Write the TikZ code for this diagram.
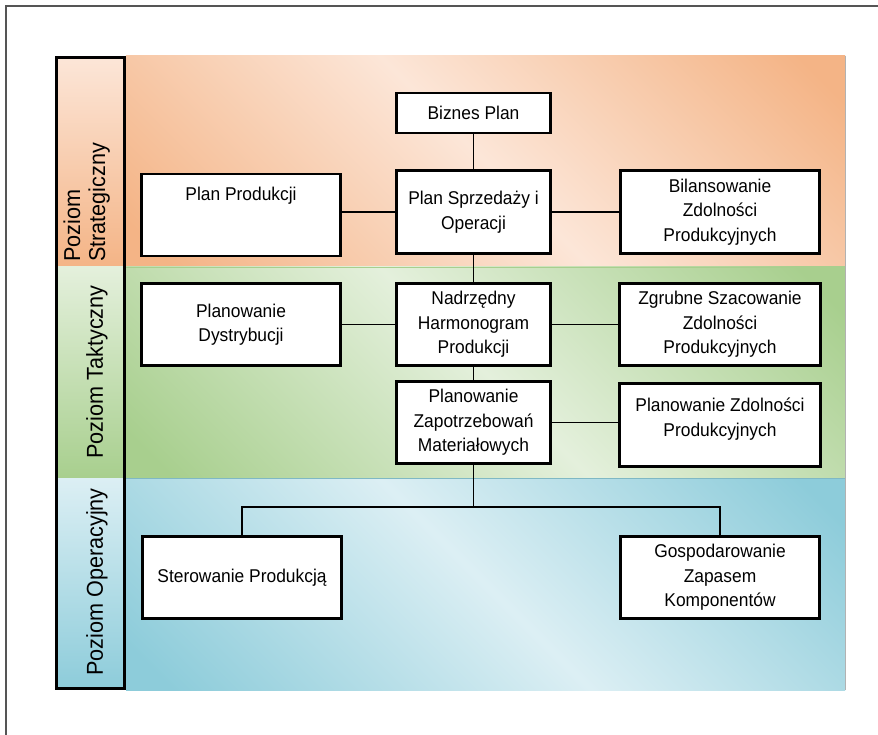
\documentclass[tikz,border=0pt]{standalone}
\usepackage{fontspec}
\setmainfont{Liberation Sans}
\newfontfamily\boxfont[FakeStretch=0.94]{Liberation Sans}
\usetikzlibrary{calc}
\definecolor{sDark}{HTML}{F4B486}
\definecolor{sLight}{HTML}{FCE6D8}
\definecolor{tDark}{HTML}{A8CF8E}
\definecolor{tLight}{HTML}{E4F0DC}
\definecolor{oDark}{HTML}{8DCCDA}
\definecolor{oLight}{HTML}{DCEFF4}
\definecolor{frameGray}{HTML}{555555}
\pgfdeclarehorizontalshading{stratsh}{100bp}{color(0bp)=(sDark); color(18bp)=(sDark); color(50bp)=(sLight); color(82bp)=(sDark); color(100bp)=(sDark)}
\pgfdeclarehorizontalshading{taktsh}{100bp}{color(0bp)=(tDark); color(18bp)=(tDark); color(50bp)=(tLight); color(82bp)=(tDark); color(100bp)=(tDark)}
\pgfdeclarehorizontalshading{opersh}{100bp}{color(0bp)=(oDark); color(18bp)=(oDark); color(50bp)=(oLight); color(82bp)=(oDark); color(100bp)=(oDark)}
\tikzset{
  box/.style={draw=black, line width=2.8pt, fill=white, align=center, inner sep=0pt,
    font=\boxfont\fontsize{18.5}{24.5}\selectfont},
  conn/.style={draw=black, line width=1.2pt},
  lvl/.style={rotate=90, align=left, inner sep=0pt, font=\boxfont\fontsize{23}{25}\selectfont},
}
\begin{document}
\begin{tikzpicture}[x=1pt,y=-1pt]
\useasboundingbox (0,0) rectangle (878,735);
\fill[white] (0,0) rectangle (878,735);
% outer frame
\draw[frameGray, line width=1.5pt] (6,735) -- (6,6) -- (878,6);
% bands
\shade[shading=stratsh, shading angle=45] (126,56) rectangle (845,267);
\shade[shading=taktsh, shading angle=45] (126,267) rectangle (845,478);
\shade[shading=opersh, shading angle=45] (126,478) rectangle (845,690);
\draw[tDark, line width=1pt] (126,267.5) -- (845,267.5);
\draw[oDark!90!black, line width=1pt] (126,478.5) -- (845,478.5);
\draw[black!30, line width=1pt] (845.5,56) -- (845.5,690);
% label column
\shade[top color=sLight, bottom color=sDark] (56,57) rectangle (125,267);
\shade[top color=tLight, bottom color=tDark] (56,267) rectangle (125,478);
\shade[top color=oLight, bottom color=oDark] (56,478) rectangle (125,689);
\draw[black, line width=3pt] (56.5,57.5) rectangle (124.5,688.5);
\node[lvl, anchor=south west] (lS) at (110,262) {Poziom\\Strategiczny};
\node[lvl] (lT) at (97,372) {Poziom Taktyczny};
\node[lvl] (lO) at (97,582) {Poziom Operacyjny};
% boxes
\node[box, minimum width=154pt, minimum height=40pt] (biz) at (473.5,113) {Biznes Plan};
\node[box, minimum width=154pt, minimum height=83pt] (pso) at (473.5,212) {Plan Sprzedaży i\\Operacji};
\node[box, minimum width=199pt, minimum height=82pt] (pp) at (241,215) {Plan Produkcji\\[10pt]\strut};
\node[box, minimum width=199pt, minimum height=83pt] (bil) at (720,212) {Bilansowanie\\Zdolności\\Produkcyjnych};
\node[box, minimum width=199pt, minimum height=82pt] (dys) at (241,324.5) {Planowanie\\Dystrybucji};
\node[box, minimum width=154pt, minimum height=82pt] (nhp) at (473.5,324.5) {Nadrzędny\\Harmonogram\\Produkcji};
\node[box, minimum width=201pt, minimum height=82pt] (zsz) at (720,324.5) {Zgrubne Szacowanie\\Zdolności\\Produkcyjnych};
\node[box, minimum width=154pt, minimum height=82pt] (pzm) at (473.5,422.5) {Planowanie\\Zapotrzebowań\\Materiałowych};
\node[box, minimum width=201pt, minimum height=83pt] (pzp) at (720,425) {Planowanie Zdolności\\Produkcyjnych\\[-16pt]\strut};
\node[box, minimum width=199pt, minimum height=82pt] (ste) at (242,577.5) {Sterowanie Produkcją};
\node[box, minimum width=199pt, minimum height=82pt] (gzk) at (720,577.5) {Gospodarowanie\\Zapasem\\Komponentów};
% connectors
\coordinate (bus) at (473.5,507);
\draw[conn] (biz.south) -- (pso.north);
\draw[conn] (pso.west) -- (pso.west -| pp.east);
\draw[conn] (pso.east) -- (bil.west);
\draw[conn] (pso.south) -- (nhp.north);
\draw[conn] (nhp.west) -- (dys.east);
\draw[conn] (nhp.east) -- (zsz.west);
\draw[conn] (nhp.south) -- (pzm.north);
\draw[conn] (pzm.east) -- (pzm.east -| pzp.west);
\draw[conn] (pzm.south) -- (bus);
\draw[conn] (ste.north) |- (bus) -| (gzk.north);
\end{tikzpicture}
\end{document}
